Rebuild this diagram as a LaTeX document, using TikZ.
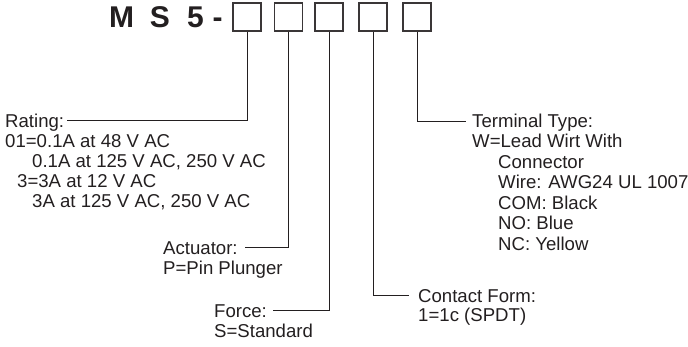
\documentclass[tikz,border=0pt]{standalone}
\usepackage{fontspec}
\setmainfont{Liberation Sans}
\definecolor{ink}{HTML}{231F20}
\definecolor{boxline}{HTML}{3A3637}
\begin{document}
\begin{tikzpicture}[x=1pt,y=-1pt,
  lbl/.style={anchor=base west,inner sep=0pt,text=ink,font=\fontsize{18.6}{20}\selectfont},
  ttl/.style={anchor=base,inner sep=0pt,text=ink,font=\fontsize{30}{32}\selectfont\bfseries},
  cbox/.style={draw=boxline,line width=1.3pt,minimum width=28pt,minimum height=28pt,inner sep=0pt},
  conn/.style={draw=ink,line width=1pt}]
\useasboundingbox (0,0) rectangle (688,346);
% title
\node[ttl] (tM) at (121.5,27) {M};
\node[ttl] (tS) at (160,27) {S};
\node[ttl] (t5) at (195.5,27) {5};
\node[ttl] (td) at (217.5,27) {-};
% boxes
\node[cbox] (b1) at (247,17) {};
\node[cbox] (b2) at (288.5,17) {};
\node[cbox] (b3) at (329,17) {};
\node[cbox] (b4) at (373,17) {};
\node[cbox] (b5) at (417,17) {};
% rating
\node[lbl] (rating) at (5,127) {Rating:};
\node[lbl] (r1) at (5,147) {01=0.1A at 48 V AC};
\node[lbl] (r2) at (32,167) {0.1A at 125 V AC, 250 V AC};
\node[lbl] (r3) at (17,187) {3=3A at 12 V AC};
\node[lbl] (r4) at (32,207) {3A at 125 V AC, 250 V AC};
% actuator
\node[lbl] (act) at (163,254) {Actuator:};
\node[lbl] (a1) at (163,274) {P=Pin Plunger};
% force
\node[lbl] (force) at (214,317) {Force:};
\node[lbl] (f1) at (214,337) {S=Standard};
% contact
\node[lbl] (contact) at (418,302) {Contact Form:};
\node[lbl] (c1) at (418,321) {1=1c (SPDT)};
% terminal
\node[lbl] (term) at (472,127) {Terminal Type:};
\node[lbl] (t1) at (472,147.5) {W=Lead Wirt With};
\node[lbl] (t2) at (498,168) {Connector};
\node[lbl] (t3) at (498,188.5) {Wire: AWG24 UL 1007};
\node[lbl] (t4) at (498,209) {COM: Black};
\node[lbl] (t5l) at (498,229.5) {NO: Blue};
\node[lbl] (t6) at (498,250) {NC: Yellow};
% connectors
\draw[conn] (b1.south) |- ([xshift=3pt,yshift=7pt]rating.base east);
\draw[conn] (b2.south) |- ([xshift=7pt,yshift=6.5pt]act.base east);
\draw[conn] (b3.south) |- ([xshift=6pt,yshift=6.5pt]force.base east);
\draw[conn] (b4.south) |- ([xshift=-9pt,yshift=7pt]contact.base west);
\draw[conn] (b5.south) |- ([xshift=-6pt,yshift=6pt]term.base west);
\end{tikzpicture}
\end{document}
